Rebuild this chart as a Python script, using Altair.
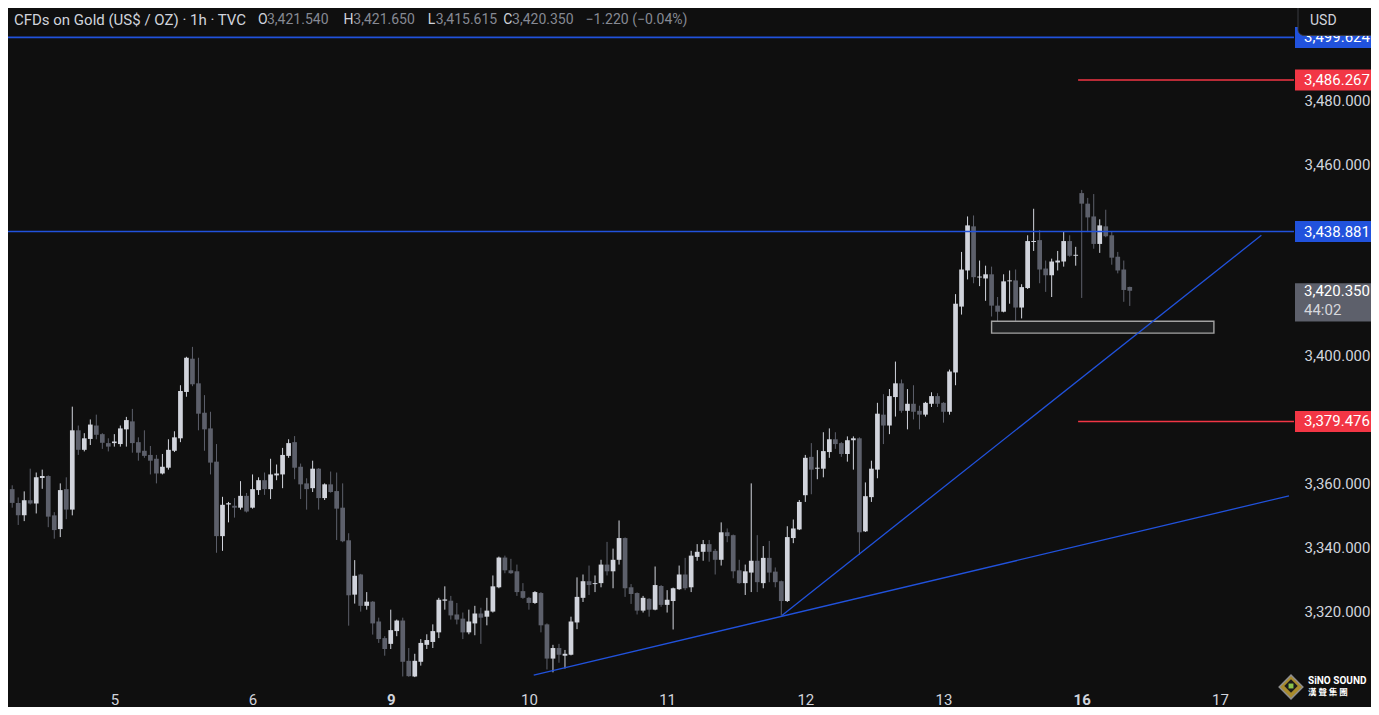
import altair as alt
import pandas as pd

# ---------------- data ----------------
bar_index = list(range(-1, 186))

opens = [
    3358.3, 3354.0, 3350.1, 3354.8, 3353.8, 3361.8, 3362.4, 3350.1, 3345.8, 3358.3,
    3351.9, 3376.7, 3370.6, 3374.0, 3378.2, 3375.5, 3372.7, 3372.7, 3372.4, 3377.0,
    3379.5, 3373.0, 3370.3, 3369.0, 3367.8, 3363.2, 3365.0, 3370.3, 3374.2, 3388.7,
    3399.1, 3391.4, 3382.2, 3377.3, 3366.9, 3343.6, 3353.5, 3353.1, 3352.5, 3356.2,
    3352.5, 3358.0, 3361.1, 3358.3, 3362.6, 3362.9, 3368.7, 3373.0, 3365.3, 3360.1,
    3358.6, 3364.7, 3355.5, 3359.8, 3357.7, 3352.5, 3342.3, 3325.3, 3331.6, 3321.8,
    3323.1, 3316.9, 3311.7, 3309.9, 3313.9, 3317.2, 3304.6, 3299.7, 3304.3, 3309.6,
    3310.5, 3313.5, 3323.4, 3323.4, 3319.1, 3317.8, 3313.5, 3316.3, 3319.4, 3318.4,
    3320.0, 3327.6, 3336.9, 3332.9, 3332.6, 3326.4, 3324.3, 3322.7, 3325.8, 3316.0,
    3305.3, 3308.6, 3306.2, 3306.5, 3316.6, 3324.3, 3329.5, 3328.6, 3328.9, 3334.7,
    3332.6, 3336.2, 3343.0, 3327.6, 3325.8, 3320.3, 3324.0, 3320.6, 3328.0, 3322.1,
    3323.3, 3327.0, 3331.6, 3327.6, 3337.1, 3338.7, 3341.1, 3339.0, 3336.2, 3344.8,
    3343.9, 3332.9, 3328.9, 3332.2, 3335.9, 3328.9, 3336.8, 3332.5, 3329.5, 3323.3,
    3343.0, 3345.7, 3356.4, 3368.4, 3364.7, 3364.7, 3369.9, 3373.9, 3372.7, 3369.3,
    3373.6, 3374.2, 3345.1, 3355.8, 3364.4, 3381.6, 3378.2, 3387.1, 3391.4, 3382.8,
    3385.0, 3382.8, 3381.6, 3385.0, 3387.4, 3385.3, 3382.5, 3394.8, 3415.4, 3426.7,
    3440.5, 3424.5, 3424.2, 3425.5, 3415.7, 3413.8, 3423.3, 3423.6, 3415.1, 3421.2,
    3435.6, 3436.2, 3427.3, 3425.2, 3429.2, 3429.5, 3435.9, 3431.3, 3450.9, 3447.6,
    3443.6, 3435.0, 3440.5, 3437.7, 3431.0, 3427.0, 3421.54,
]
highs = [
    3359.5, 3355.7, 3357.6, 3364.7, 3363.5, 3364.4, 3362.6, 3351.1, 3360.1, 3362.0,
    3384.1, 3378.2, 3375.8, 3380.1, 3381.6, 3375.8, 3374.2, 3375.5, 3378.2, 3380.9,
    3383.4, 3374.5, 3376.7, 3371.8, 3369.0, 3369.3, 3373.9, 3376.4, 3390.8, 3399.7,
    3402.8, 3399.4, 3387.7, 3382.5, 3372.4, 3355.9, 3354.3, 3355.5, 3360.8, 3357.1,
    3362.9, 3362.0, 3363.5, 3367.8, 3366.0, 3371.2, 3373.9, 3374.9, 3366.3, 3361.7,
    3367.2, 3364.9, 3360.1, 3363.8, 3363.5, 3360.1, 3344.5, 3336.1, 3331.8, 3326.1,
    3323.3, 3318.1, 3312.3, 3320.6, 3317.5, 3318.1, 3308.6, 3306.8, 3311.4, 3312.9,
    3316.0, 3324.3, 3327.9, 3324.9, 3322.7, 3319.7, 3320.6, 3321.8, 3321.2, 3324.3,
    3331.3, 3337.2, 3337.5, 3336.5, 3334.7, 3328.9, 3324.6, 3326.4, 3326.1, 3316.3,
    3309.6, 3309.9, 3308.0, 3318.4, 3330.7, 3331.6, 3334.4, 3331.3, 3336.2, 3341.8,
    3339.7, 3348.5, 3343.2, 3328.6, 3326.0, 3324.9, 3324.2, 3334.1, 3328.3, 3326.7,
    3327.5, 3334.4, 3336.8, 3339.0, 3341.1, 3342.4, 3342.4, 3339.6, 3347.9, 3346.0,
    3344.1, 3336.2, 3334.7, 3360.1, 3343.9, 3340.5, 3342.1, 3333.8, 3329.7, 3346.7,
    3348.8, 3354.9, 3369.0, 3372.7, 3370.5, 3376.1, 3377.3, 3376.1, 3373.0, 3374.8,
    3374.8, 3374.5, 3360.4, 3367.2, 3385.3, 3388.0, 3389.6, 3398.2, 3392.6, 3389.6,
    3390.8, 3384.4, 3385.6, 3388.6, 3388.3, 3385.5, 3395.7, 3419.3, 3432.5, 3443.6,
    3443.9, 3429.8, 3428.2, 3427.9, 3418.4, 3425.5, 3426.7, 3427.0, 3422.4, 3437.7,
    3446.0, 3439.3, 3429.8, 3430.4, 3432.8, 3439.0, 3437.7, 3434.1, 3451.9, 3449.4,
    3450.6, 3442.7, 3445.7, 3439.0, 3432.5, 3429.8, 3421.65,
]
lows = [
    3352.5, 3347.1, 3348.3, 3353.5, 3350.7, 3358.4, 3346.4, 3342.8, 3343.3, 3348.9,
    3350.1, 3369.0, 3370.1, 3372.1, 3373.9, 3370.9, 3370.1, 3371.6, 3371.6, 3371.6,
    3369.7, 3367.2, 3368.1, 3362.9, 3360.1, 3362.9, 3364.4, 3369.9, 3373.0, 3387.2,
    3390.5, 3376.7, 3370.3, 3362.9, 3338.4, 3339.0, 3347.9, 3349.4, 3351.9, 3351.0,
    3352.2, 3356.5, 3356.5, 3355.2, 3361.1, 3358.6, 3368.1, 3361.4, 3355.2, 3351.9,
    3357.4, 3351.9, 3354.9, 3357.2, 3342.4, 3341.7, 3315.6, 3322.5, 3320.0, 3320.6,
    3312.8, 3310.2, 3306.2, 3308.3, 3312.3, 3299.7, 3299.6, 3299.5, 3303.1, 3308.3,
    3308.6, 3311.7, 3320.6, 3317.5, 3316.0, 3311.4, 3312.9, 3312.6, 3309.9, 3315.7,
    3319.7, 3327.3, 3332.0, 3331.8, 3324.9, 3324.0, 3320.6, 3322.4, 3313.5, 3301.9,
    3301.0, 3304.0, 3302.2, 3306.3, 3314.5, 3323.0, 3325.2, 3326.1, 3327.6, 3331.3,
    3327.3, 3334.7, 3324.6, 3322.4, 3319.1, 3319.7, 3318.4, 3320.4, 3321.5, 3319.7,
    3314.4, 3326.8, 3326.7, 3326.1, 3335.9, 3335.9, 3335.6, 3331.6, 3334.4, 3341.7,
    3330.4, 3328.7, 3325.2, 3326.1, 3326.1, 3327.3, 3329.2, 3327.6, 3318.7, 3323.0,
    3341.4, 3345.5, 3354.3, 3356.7, 3361.4, 3362.0, 3368.1, 3370.9, 3368.4, 3366.9,
    3364.4, 3337.7, 3344.9, 3354.3, 3361.7, 3372.4, 3375.5, 3381.0, 3382.2, 3377.0,
    3380.1, 3377.0, 3381.0, 3384.0, 3384.0, 3379.1, 3381.6, 3390.8, 3412.9, 3423.9,
    3422.7, 3421.8, 3417.2, 3412.3, 3410.8, 3413.6, 3416.3, 3410.8, 3411.7, 3420.9,
    3432.8, 3422.7, 3420.0, 3418.4, 3426.7, 3427.9, 3431.0, 3428.2, 3418.1, 3438.7,
    3433.5, 3432.2, 3437.1, 3428.5, 3425.8, 3416.9, 3415.615,
]
closes = [
    3354.0, 3350.1, 3354.8, 3353.8, 3362.0, 3362.4, 3349.7, 3345.5, 3358.0, 3351.9,
    3376.7, 3370.6, 3374.2, 3378.5, 3375.3, 3372.8, 3371.6, 3373.2, 3377.3, 3379.9,
    3372.7, 3369.7, 3368.7, 3367.2, 3363.2, 3365.3, 3370.6, 3374.5, 3389.0, 3399.4,
    3391.1, 3381.9, 3377.0, 3366.6, 3343.6, 3353.4, 3353.9, 3352.5, 3356.2, 3351.3,
    3358.3, 3361.1, 3358.3, 3362.9, 3363.2, 3369.0, 3372.7, 3365.0, 3359.8, 3358.3,
    3364.7, 3355.5, 3359.8, 3357.4, 3352.2, 3342.0, 3325.1, 3331.2, 3321.8, 3323.1,
    3316.3, 3311.4, 3308.3, 3314.2, 3317.2, 3304.3, 3299.8, 3304.6, 3310.2, 3311.1,
    3313.9, 3323.7, 3323.8, 3318.8, 3317.5, 3313.5, 3316.9, 3319.4, 3318.1, 3320.3,
    3327.9, 3336.9, 3332.9, 3332.0, 3326.1, 3324.3, 3322.7, 3326.1, 3315.7, 3305.3,
    3308.6, 3306.5, 3306.8, 3316.9, 3324.6, 3329.5, 3328.3, 3328.9, 3334.7, 3332.6,
    3336.2, 3343.0, 3327.3, 3325.5, 3320.3, 3324.3, 3320.6, 3328.3, 3322.1, 3323.7,
    3327.3, 3331.6, 3327.3, 3337.5, 3338.7, 3341.1, 3338.7, 3336.2, 3344.8, 3343.6,
    3332.6, 3328.9, 3332.6, 3335.9, 3329.2, 3336.8, 3332.2, 3329.2, 3323.3, 3343.3,
    3346.0, 3354.3, 3368.1, 3364.4, 3365.0, 3370.2, 3373.9, 3372.4, 3369.3, 3373.6,
    3374.2, 3344.8, 3356.1, 3364.7, 3381.9, 3378.2, 3387.4, 3391.4, 3382.8, 3385.0,
    3382.5, 3381.6, 3385.3, 3387.4, 3385.0, 3382.5, 3395.1, 3416.3, 3427.0, 3440.8,
    3424.6, 3424.8, 3425.5, 3415.7, 3413.8, 3423.3, 3423.6, 3415.1, 3421.5, 3435.9,
    3435.9, 3427.0, 3425.2, 3429.5, 3429.8, 3435.9, 3431.3, 3431.6, 3447.6, 3443.3,
    3435.0, 3440.8, 3437.4, 3430.7, 3426.7, 3420.6, 3420.35,
]
assert len(opens) == len(highs) == len(lows) == len(closes) == len(bar_index)

day_ticks = [16, 39, 62, 85, 108, 131, 154, 177, 200]
day_labels = ["5", "6", "9", "10", "11", "12", "13", "16", "17"]
week_start_ticks = [62, 177]

price_ticks = [3320, 3340, 3360, 3400, 3460, 3480]

blue_levels = [3499.6, 3438.881]
blue_level_labels = ["3,499.624", "3,438.881"]
red_levels = [3486.267, 3379.476]
red_level_labels = ["3,486.267", "3,379.476"]
red_level_start = [176.4, 176.4]

trend_x1 = [85.8, 127.1]
trend_y1 = [3300.1, 3318.8]
trend_x2 = [211.5, 206.9]
trend_y2 = [3356.2, 3437.7]

zone_x1 = [162.0]
zone_x2 = [199.0]
zone_lo = [3407.1]
zone_hi = [3410.8]

last_price = [3420.35]
last_price_label = ["3,420.350"]
countdown = ["44:02"]

# ---------------- styling ----------------
W, H = 1286, 672
BG = "#0f0f0f"
UP = "#d1d4dc"
DOWN = "#5d606b"
BLUE = "#2152dc"
RED = "#f23645"
TXT = "#d1d4dc"
GRAYTXT = "#868993"
FONT = "Roboto"
SX = W / 1296.0
SY = H / 686.0

candles = pd.DataFrame({"i": bar_index, "open": opens, "high": highs,
                        "low": lows, "close": closes})
candles["dir"] = ["up" if c >= o else "down" for o, c in zip(opens, closes)]

xs = alt.Scale(domain=[-0.868, 211.5], nice=False, zero=False)
ys = alt.Scale(domain=[3298.6, 3508.8], nice=False, zero=False)

label_expr = "".join(f"datum.value == {t} ? '{l}' : " for t, l in zip(day_ticks, day_labels)) + "''"
bold_test = " || ".join(f"datum.value == {t}" for t in week_start_ticks)

xax = alt.Axis(values=day_ticks, labelExpr=label_expr, title=None, grid=False,
               domain=False, ticks=False, tickSize=0, labelPadding=12,
               labelFont=FONT, labelFontSize=15, labelColor=TXT,
               labelFontWeight={"condition": {"test": bold_test, "value": "bold"},
                                "value": "normal"},
               labelOverlap=False, labelFlush=False)
yax = alt.Axis(orient="right", values=price_ticks, format=",.3f", title=None,
               grid=False, domain=False, ticks=False, tickSize=0, labelPadding=10,
               labelAlign="left", labelFont=FONT, labelFontSize=15, labelColor=TXT,
               labelOverlap=False, labelFlush=False)


def X(f):
    return alt.X(f, type="quantitative", scale=xs, axis=xax)


def Y(f):
    return alt.Y(f, type="quantitative", scale=ys, axis=yax)


col = alt.Color("dir:N", scale=alt.Scale(domain=["up", "down"], range=[UP, DOWN]), legend=None)

wicks = alt.Chart(candles).mark_rule(strokeWidth=1, clip=True).encode(
    x=X("i"), y=Y("low"), y2="high", color=col)
bodies = alt.Chart(candles).mark_bar(width=4.7, clip=True).encode(
    x=X("i"), y=Y("open"), y2="close", color=col)

zone = alt.Chart(pd.DataFrame({"x1": zone_x1, "x2": zone_x2, "lo": zone_lo, "hi": zone_hi})).mark_rect(
    fill="#8a8d96", fillOpacity=0.14, stroke="#a3a3a3", strokeWidth=1.4, clip=True).encode(
    x=X("x1"), x2="x2", y=Y("lo"), y2="hi")

blue_df = pd.DataFrame({"v": blue_levels, "t": blue_level_labels})
red_df = pd.DataFrame({"v": red_levels, "t": red_level_labels, "s": red_level_start})

blue_lines = alt.Chart(blue_df).mark_rule(stroke=BLUE, strokeWidth=1.6).encode(y=Y("v"))
red_lines = alt.Chart(red_df).mark_rule(stroke=RED, strokeWidth=1.5).encode(
    x=X("s"), x2=alt.value(W), y=Y("v"))

trends = alt.Chart(pd.DataFrame({"x1": trend_x1, "y1": trend_y1, "x2": trend_x2, "y2": trend_y2})).mark_rule(
    stroke=BLUE, strokeWidth=1.3, clip=True).encode(x=X("x1"), y=Y("y1"), x2="x2", y2="y2")

# price tags on the right scale
blue_boxes = alt.Chart(blue_df).mark_rect(color=BLUE, yOffset=-10.5, y2Offset=10.5).encode(
    x=alt.value(W + 1), x2=alt.value(W + 120), y=Y("v"), y2="v")
red_boxes = alt.Chart(red_df).mark_rect(color=RED, yOffset=-10.5, y2Offset=10.5).encode(
    x=alt.value(W + 1), x2=alt.value(W + 120), y=Y("v"), y2="v")
blue_txt = alt.Chart(blue_df).mark_text(align="left", baseline="middle", font=FONT, fontSize=15,
                                        color="white").encode(x=alt.value(W + 10), y=Y("v"), text="t:N")
red_txt = alt.Chart(red_df).mark_text(align="left", baseline="middle", font=FONT, fontSize=15,
                                      color="white").encode(x=alt.value(W + 10), y=Y("v"), text="t:N")

last_df = pd.DataFrame({"v": last_price, "t": last_price_label, "cd": countdown})
last_box = alt.Chart(last_df).mark_rect(color="#5d606b", yOffset=-7.5, y2Offset=30.7).encode(
    x=alt.value(W + 1), x2=alt.value(W + 120), y=Y("v"), y2="v")
last_txt = alt.Chart(last_df).mark_text(align="left", baseline="middle", font=FONT, fontSize=15,
                                        color="white").encode(x=alt.value(W + 10), y=Y("v"), text="t:N")
last_cd = alt.Chart(last_df).mark_text(align="left", baseline="middle", font=FONT, fontSize=15,
                                       color="#d6d7dc", dy=19).encode(x=alt.value(W + 10), y=Y("v"), text="cd:N")

one = pd.DataFrame({"a": [0]})

usd_box = alt.Chart(one).mark_rect(fill=BG, stroke="#3a3c42", strokeWidth=1, cornerRadius=6).encode(
    x=alt.value(1290), x2=alt.value(1400), y=alt.value(-10), y2=alt.value(27.4))
usd_txt = alt.Chart(one).mark_text(text="USD", align="left", baseline="middle", font=FONT,
                                   fontSize=14, color=TXT).encode(x=alt.value(1302), y=alt.value(12.7))

# header
header_parts = [
    ("CFDs on Gold (US$ / OZ) · 1h · TVC", 6, TXT, 15),
    ("O", 252, TXT, 14), ("3,421.540", 261, GRAYTXT, 14),
    ("H", 338, TXT, 14), ("3,421.650", 348, GRAYTXT, 14),
    ("L", 423, TXT, 14), ("3,415.615", 431, GRAYTXT, 14),
    ("C", 499, TXT, 14), ("3,420.350", 508, GRAYTXT, 14),
    ("\u22121.220 (\u22120.04%)", 582, GRAYTXT, 14),
]
header_layers = [
    alt.Chart(one).mark_text(text=t, align="left", baseline="middle", font=FONT, fontSize=fs,
                             color=c).encode(x=alt.value(px * SX), y=alt.value(12 * SY))
    for t, px, c, fs in header_parts
]

# watermark
logo_outer = alt.Chart(one).mark_point(shape="diamond", filled=True, size=560, color="#a98b2c",
                                       stroke="#8e8e8e", strokeWidth=1.5, opacity=1).encode(
    x=alt.value(1283), y=alt.value(679))
logo_inner = alt.Chart(one).mark_point(shape="diamond", filled=True, size=180, color="#1a1a1a",
                                       opacity=1).encode(x=alt.value(1283), y=alt.value(678))
logo_dot = alt.Chart(one).mark_point(shape="square", filled=True, size=24, color="#8bc34a",
                                     opacity=1).encode(x=alt.value(1283), y=alt.value(678))
wm1 = alt.Chart(one).mark_text(text="SiNO SOUND", align="left", baseline="middle", font=FONT,
                               fontSize=10, fontWeight="bold", color="white").encode(
    x=alt.value(1300), y=alt.value(672.5))
wm2 = alt.Chart(one).mark_text(text="漢  聲  集  團", align="left", baseline="middle",
                               font="Noto Sans CJK TC", fontSize=8.5, fontWeight="bold",
                               color="white").encode(x=alt.value(1300), y=alt.value(683.5))

chart = alt.layer(
    wicks, bodies, zone, blue_lines, red_lines, trends,
    blue_boxes, blue_txt, red_boxes, red_txt, last_box, last_txt, last_cd,
    usd_box, usd_txt, *header_layers, logo_outer, logo_inner, logo_dot, wm1, wm2,
).properties(
    width=W, height=H,
    padding={"left": 0, "top": 0, "right": 77, "bottom": 27},
    autosize=alt.AutoSizeParams(type="none"),
    background=BG,
).configure_view(stroke=None)

chart.save("out.html", embed_options={"renderer": "svg", "actions": False})
